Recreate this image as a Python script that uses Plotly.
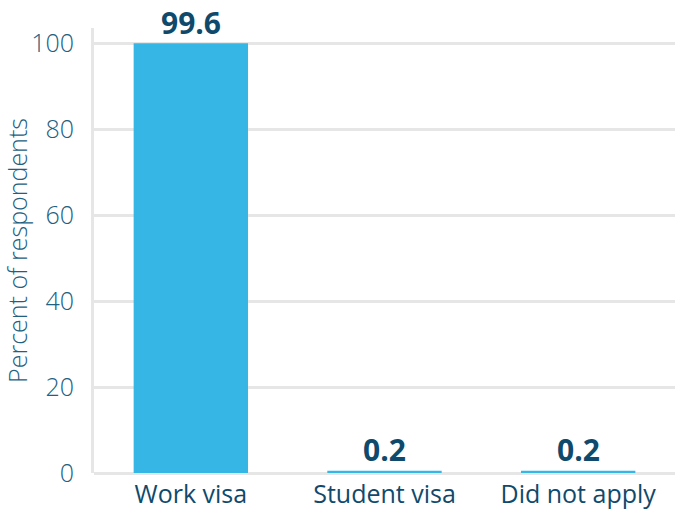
import plotly.graph_objects as go

categories = ["Work visa", "Student visa", "Did not apply"]
values = [99.6, 0.2, 0.2]
y_ticks = [0, 20, 40, 60, 80, 100]

BAR = "#35B6E5"
NAVY = "#0F4A6C"
TICK = "#22607F"
GRID = "#E6E6E6"
FONT = "Open Sans"

fig = go.Figure()
fig.add_trace(go.Bar(
    x=categories,
    y=values,
    width=0.575,
    marker=dict(color=BAR, line=dict(color=BAR, width=3)),
    hoverinfo="skip",
))

for c, v in zip(categories, values):
    fig.add_annotation(
        x=c, y=v, text=f"<b>{v:g}</b>", showarrow=False,
        yanchor="bottom", yshift=0,
        font=dict(family=FONT, size=30, color=NAVY),
    )

fig.update_layout(
    width=675, height=511,
    margin=dict(l=94, r=0, t=28, b=38),
    paper_bgcolor="white", plot_bgcolor="white",
    showlegend=False,
    font=dict(family=FONT),
    xaxis=dict(
        range=[-0.5, 2.5],
        showgrid=False, zeroline=False, showline=False,
        tickfont=dict(family=FONT, size=25, color=NAVY, weight=500),
        ticks="", ticklabelstandoff=4,
    ),
    yaxis=dict(
        range=[0, 103.5],
        tickvals=y_ticks,
        showgrid=True, gridcolor=GRID, gridwidth=2.5,
        zeroline=True, zerolinecolor=GRID, zerolinewidth=2.5,
        showline=True, linecolor=GRID, linewidth=3,
        ticks="", ticklabelstandoff=12,
        tickfont=dict(family=FONT, size=25, color=TICK, weight=300),
        title=dict(text="Percent of respondents", standoff=8,
                   font=dict(family=FONT, size=25, color=TICK, weight=300)),
    ),
)

fig.write_html("out.html")
